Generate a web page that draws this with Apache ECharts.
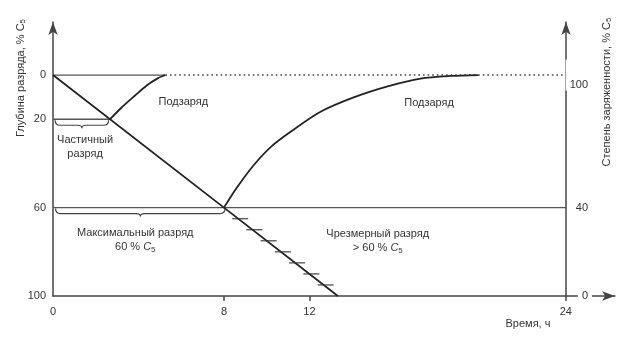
<!DOCTYPE html>
<html>
<head>
<meta charset="utf-8">
<script src="https://cdn.jsdelivr.net/npm/echarts@6/dist/echarts.min.js"></script>
<style>
  html, body { margin: 0; padding: 0; background: #fff; }
  #chart { width: 635px; height: 345px; }
</style>
</head>
<body>
<div id="chart"></div>
<script>
// Tick labels
const timeTicks = [0, 8, 12, 24];
const depthTicks = [0, 20, 60, 100];
const chargeTicks = [0, 40, 100];

// Discharge at constant rate: depth of discharge (% C5) vs time (h)
const dischargeLine = [[0, 0], [8, 60], [13.33, 100]];
// Recharge after a partial (20 %) discharge
const partialRecharge = [[2.67, 20], [3.2, 14.8], [3.8, 9.6], [4.4, 4.6], [4.9, 1.5], [5.26, 0]];
// Recharge after the maximal (60 %) discharge
const fullRecharge = [[8, 60], [8.6, 51], [9.4, 40.7], [10.2, 32.5], [11.1, 25.8], [12.5, 16.7],
  [14.1, 10], [15.7, 5], [17.2, 1.6], [18.6, 0.4], [19.9, 0]];
// Hatch marks on the over-discharge segment (depth, % C5)
const overDepths = [65, 70, 75, 80, 85, 90, 95];

// Reference levels
const fullChargeEnd = 24;
const partialDepth = 20;
const partialTime = 2.67;
const partialDone = 5.26;
const maxDepth = 60;

// Braces: [from time, to time, depth]
const braces = [[0.1, 2.6, 20], [0.12, 8.05, 60]];

// Annotations: [time, depth, text]
const notes = [
  [6.1, 12, 'Подзаряд'],
  [17.6, 12.7, 'Подзаряд'],
  [1.5, 32.5, 'Частичный\nразряд'],
  [3.85, 74.5, 'Максимальный разряд\n60 % {i|C}{s|5}'],
  [15.2, 75, 'Чрезмерный разряд\n> 60 % {i|C}{s|5}']
];

const FONT = '"Liberation Sans", Arial, sans-serif';
const FS = 11;
const TXT = '#333';
const AX = '#444';

const richSub = {
  i: { fontStyle: 'italic', fontSize: FS, fontFamily: FONT, fill: TXT, color: TXT, lineHeight: 14 },
  s: { fontSize: 8, fontFamily: FONT, fill: TXT, color: TXT, verticalAlign: 'bottom', lineHeight: 10, padding: [4, 0, 0, 0] }
};

const lineSeries = (data, extra) => Object.assign({
  type: 'line', data, symbol: 'none', silent: true,
  lineStyle: { color: '#222', width: 1.8 }, z: 3
}, extra || {});

const chart = echarts.init(document.getElementById('chart'), null, { renderer: 'canvas' });

chart.setOption({
  animation: false,
  backgroundColor: '#fff',
  grid: { left: 53, right: 20, top: 22, bottom: 49, outerBoundsMode: 'none', containLabel: false },
  xAxis: {
    type: 'value', min: 0, max: 26.3,
    axisLine: { show: true, onZero: false, symbol: ['none', 'arrow'], symbolSize: [7, 13], lineStyle: { color: AX, width: 1.5 } },
    axisTick: { show: true, customValues: [8, 12, 24], length: 5, lineStyle: { color: AX, width: 1.5 } },
    axisLabel: { customValues: timeTicks, margin: 10, color: TXT, fontSize: FS, fontFamily: FONT },
    splitLine: { show: false }
  },
  yAxis: [
    {
      type: 'value', min: -24, max: 100, inverse: true,
      axisLine: { show: true, onZero: false, symbol: ['none', 'arrow'], symbolSize: [7, 13], lineStyle: { color: AX, width: 1.5 } },
      axisTick: { show: false },
      axisLabel: { customValues: depthTicks, margin: 7, color: TXT, fontSize: FS, fontFamily: FONT },
      splitLine: { show: false }
    },
    {
      type: 'value', min: 0, max: 124, position: 'right', offset: -49,
      axisLine: { show: true, onZero: false, symbol: ['none', 'arrow'], symbolSize: [7, 13], lineStyle: { color: AX, width: 1.5 } },
      axisTick: { show: false },
      axisLabel: {
        customValues: chargeTicks, margin: 26, align: 'right', color: TXT, fontSize: FS, fontFamily: FONT,
        backgroundColor: '#fff', padding: [0, 4, 0, 4],
        formatter: v => (v === 100 ? '{low|100}' : String(v)),
        rich: { low: { fontSize: FS, fontFamily: FONT, color: TXT, padding: [20, 0, 0, 0] } }
      },
      splitLine: { show: false }
    }
  ],
  graphic: [
    {
      type: 'text', x: 21, y: 78, rotation: Math.PI / 2,
      style: { text: 'Глубина разряда, % C{s|5}', align: 'center', verticalAlign: 'middle',
        font: FS + 'px ' + FONT, fill: TXT, rich: richSub }
    },
    {
      type: 'text', x: 607, y: 92, rotation: Math.PI / 2,
      style: { text: 'Степень заряженности, % C{s|5}', align: 'center', verticalAlign: 'middle',
        font: FS + 'px ' + FONT, fill: TXT, rich: richSub }
    },
    {
      type: 'text', x: 528, y: 324,
      style: { text: 'Время, ч', align: 'center', verticalAlign: 'middle', font: FS + 'px ' + FONT, fill: TXT }
    }
  ],
  series: [
    // Reference levels
    lineSeries([[0, 0], [partialDone, 0]], { lineStyle: { color: '#555', width: 1.3 }, z: 2 }),
    lineSeries([[partialDone, 0], [fullChargeEnd, 0]], { lineStyle: { color: '#444', width: 1.6, type: [1.6, 3] }, z: 2 }),
    lineSeries([[0, partialDepth], [partialTime, partialDepth]], { lineStyle: { color: '#555', width: 1.3 }, z: 2 }),
    lineSeries([[0, maxDepth], [fullChargeEnd, maxDepth]], { lineStyle: { color: '#555', width: 1.3 }, z: 2 }),
    // Discharge and recharge curves
    lineSeries(dischargeLine),
    lineSeries(partialRecharge, { smooth: 0.3 }),
    lineSeries(fullRecharge, { smooth: 0.3 }),
    // Over-discharge hatch marks on the discharge line
    {
      type: 'scatter', silent: true, z: 4,
      data: overDepths.map(d => [d * dischargeLine[2][0] / dischargeLine[2][1], d]),
      symbol: 'rect', symbolSize: [16, 1.4], symbolOffset: [2, 0],
      itemStyle: { color: '#333' }
    },
    // Braces under the discharge depths
    {
      type: 'custom', silent: true, z: 4,
      data: braces,
      renderItem: (params, api) => {
        const a = api.coord([api.value(0), api.value(2)]);
        const b = api.coord([api.value(1), api.value(2)]);
        const y = a[1], x0 = a[0], x1 = b[0], xm = (x0 + x1) / 2;
        const d = `M${x0},${y + 1} Q${x0},${y + 6} ${x0 + 5},${y + 6} L${xm - 4},${y + 6} ` +
          `Q${xm},${y + 6} ${xm},${y + 9} Q${xm},${y + 6} ${xm + 4},${y + 6} ` +
          `L${x1 - 5},${y + 6} Q${x1},${y + 6} ${x1},${y + 1}`;
        return { type: 'path', shape: { pathData: d }, style: { stroke: '#444', fill: null, lineWidth: 1.2 } };
      }
    },
    // Text annotations
    {
      type: 'custom', silent: true, z: 5,
      data: notes,
      renderItem: (params, api) => {
        const p = api.coord([api.value(0), api.value(1)]);
        return {
          type: 'text', x: p[0], y: p[1],
          style: {
            text: notes[params.dataIndex][2], align: 'center', verticalAlign: 'middle',
            font: FS + 'px ' + FONT, fill: TXT, lineHeight: 14, rich: richSub
          }
        };
      }
    }
  ]
});
</script>
</body>
</html>
